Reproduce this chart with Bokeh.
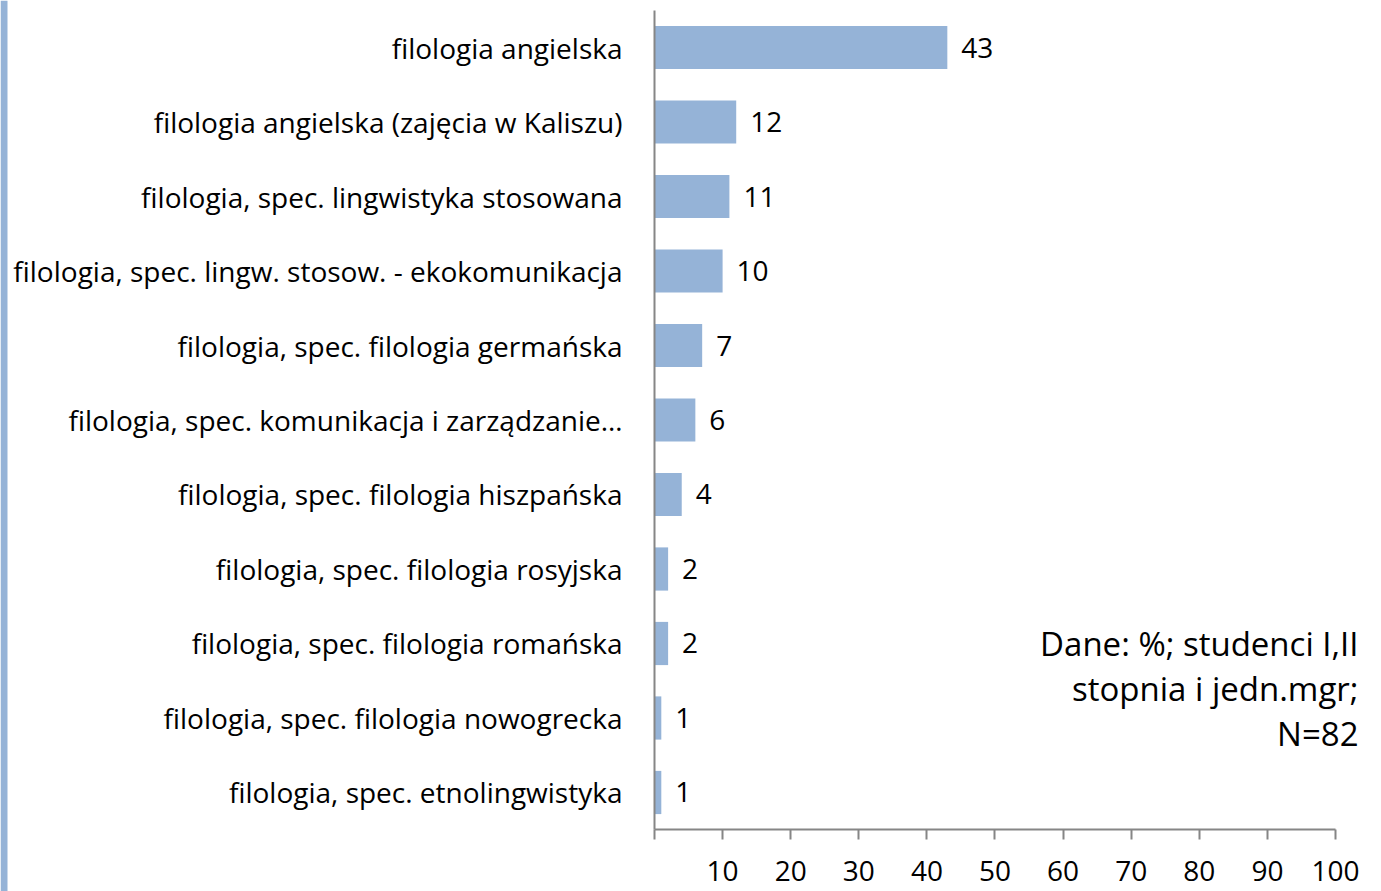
from bokeh.plotting import figure
from bokeh.models import Range1d, ColumnDataSource, Label, BoxAnnotation, FixedTicker
from bokeh.core.properties import value
from bokeh.embed import file_html
from bokeh.resources import INLINE

categories = [
    "filologia angielska",
    "filologia angielska (zajęcia w Kaliszu)",
    "filologia, spec. lingwistyka stosowana",
    "filologia, spec. lingw. stosow. - ekokomunikacja",
    "filologia, spec. filologia germańska",
    "filologia, spec. komunikacja i zarządzanie…",
    "filologia, spec. filologia hiszpańska",
    "filologia, spec. filologia rosyjska",
    "filologia, spec. filologia romańska",
    "filologia, spec. filologia nowogrecka",
    "filologia, spec. etnolingwistyka",
]
values = [43, 12, 11, 10, 7, 6, 4, 2, 2, 1, 1]
x_ticks = [0, 10, 20, 30, 40, 50, 60, 70, 80, 90, 100]
note_lines = ["Dane: %; studenci I,II", "stopnia i jedn.mgr;", "N=82"]

FONT = "Open Sans"
BAR = "#95B3D7"
AXIS = "#868686"
W, H = 1381, 891

n = len(categories)
# category slots: first category on top, slot centres at n-0.5 ... 0.5
slots = [n - 1 - i + 0.5 for i in range(n)]

src = ColumnDataSource(dict(pos=slots, val=values, lab=[str(v) for v in values]))

p = figure(width=W, height=H, output_backend="svg", toolbar_location=None,
           x_range=Range1d(-96.035, 106.755), y_range=Range1d(-0.829, n + 0.131),
           min_border_left=0, min_border_right=0, min_border_top=0, min_border_bottom=0)

p.hbar(y="pos", right="val", left=0, height=0.58, source=src, fill_color=BAR, line_color=None)
p.text(x="val", y="pos", text="lab", source=src, x_offset=14, text_align="left",
       text_baseline="middle", text_font=value(FONT), text_font_size="28px", text_color="#000000")

p.xgrid.visible = False
p.ygrid.visible = False
p.outline_line_color = None

xa = p.xaxis[0]
xa.fixed_location = 0
xa.ticker = FixedTicker(ticks=x_ticks)
xa.bounds = (0, 100)
xa.major_label_overrides = {0: ""}
xa.axis_line_color = AXIS
xa.axis_line_width = 2
xa.major_tick_line_color = AXIS
xa.major_tick_line_width = 2
xa.major_tick_in = 0
xa.major_tick_out = 10
xa.minor_tick_line_color = None
xa.major_label_standoff = 21
xa.major_label_text_font = FONT
xa.major_label_text_font_size = "28px"
xa.major_label_text_color = "#000000"

ya = p.yaxis[0]
ya.fixed_location = 0
ya.bounds = (0, n)
ya.ticker = FixedTicker(ticks=slots)
ya.major_label_overrides = {s: c for s, c in zip(slots, categories)}
ya.axis_line_color = AXIS
ya.axis_line_width = 2
ya.major_tick_line_color = None
ya.minor_tick_line_color = None
ya.major_label_standoff = 26
ya.major_label_text_font = FONT
ya.major_label_text_font_size = "28px"
ya.major_label_text_color = "#000000"

strip = BoxAnnotation(left=0, right=7, bottom=0, top=H,
                      left_units="canvas", right_units="canvas",
                      bottom_units="canvas", top_units="canvas",
                      fill_color=BAR, fill_alpha=1.0, line_color=None)
p.add_layout(strip)

anchor = slots[8]
offsets = [0, -45, -90]
for line, off in zip(note_lines, offsets):
    p.add_layout(Label(x=100, y=anchor, x_offset=23, y_offset=off, text=line,
                       text_align="right", text_baseline="middle",
                       text_font=FONT, text_font_size="33px", text_color="#000000"))

open("out.html", "w").write(file_html(p, INLINE))
